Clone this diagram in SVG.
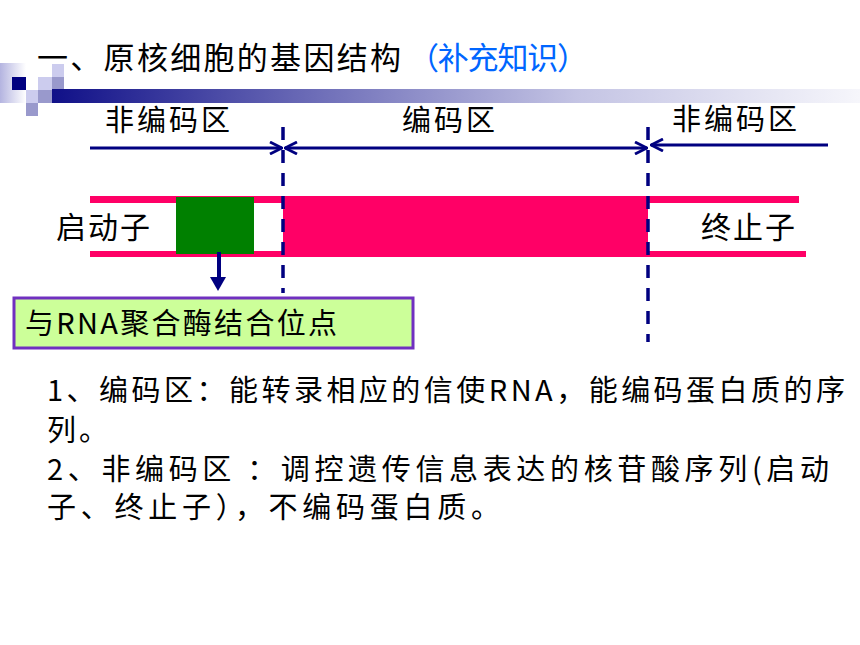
<svg xmlns="http://www.w3.org/2000/svg" width="860" height="645" viewBox="0 0 860 645">
  <style>
    .t { font-family: "Noto Sans CJK SC", "Liberation Sans", sans-serif; fill: #000; }
    .conn { stroke: #000080; stroke-width: 3.2; fill: none; }
    .dash { stroke: #000080; stroke-width: 3.5; stroke-dasharray: 13 10; fill: none; }
    .pink { fill: #FF0066; }
    .lt { fill: #CCCCEE; }
    .md { fill: #9999CC; }
  </style>
  <defs>
    <linearGradient id="barGrad" x1="0" y1="0" x2="1" y2="0">
      <stop offset="0" stop-color="#101088"/>
      <stop offset="0.3" stop-color="#6666b4"/>
      <stop offset="0.65" stop-color="#c4c4e4"/>
      <stop offset="1" stop-color="#f6f6fb"/>
    </linearGradient>
    <linearGradient id="sideGrad" x1="0" y1="0" x2="1" y2="0">
      <stop offset="0" stop-color="#b4b4e0"/>
      <stop offset="1" stop-color="#ffffff"/>
    </linearGradient>
    <marker id="openHead" viewBox="0 0 14 14" refX="13" refY="7" markerWidth="14" markerHeight="14" markerUnits="userSpaceOnUse" orient="auto-start-reverse">
      <path d="M1,1 L13,7 L1,13" fill="none" stroke="#000080" stroke-width="2.8"/>
    </marker>
  </defs>

  <g id="decoration">
    <rect x="0" y="63" width="26" height="40" fill="url(#sideGrad)"/>
    <rect x="52" y="89" width="808" height="14" fill="url(#barGrad)"/>
    <rect x="12" y="77" width="14" height="13" fill="#000080"/>
    <rect class="lt" x="26" y="90" width="12" height="13"/>
    <rect class="md" x="26" y="103" width="12" height="13"/>
    <rect class="lt" x="38" y="77" width="14" height="13"/>
    <rect class="md" x="38" y="90" width="14" height="13"/>
    <rect class="lt" x="52" y="64" width="12" height="13"/>
    <rect class="md" x="52" y="77" width="12" height="12"/>
  </g>

  <g id="title">
    <text class="t" x="37" y="69" font-size="31" textLength="364" lengthAdjust="spacing">一、原核细胞的基因结构</text>
    <text class="t" x="408" y="69" font-size="31" style="fill:#0066FF" textLength="180" lengthAdjust="spacing">（补充知识）</text>
  </g>

  <g id="region-labels">
    <text class="t" x="105" y="131" font-size="29" letter-spacing="3">非编码区</text>
    <text class="t" x="402" y="131" font-size="29" letter-spacing="3">编码区</text>
    <text class="t" x="672" y="130" font-size="29" letter-spacing="3">非编码区</text>
  </g>

  <g id="gene-band">
    <rect class="pink" x="90" y="196" width="193" height="7"/>
    <rect class="pink" x="90" y="251" width="193" height="6"/>
    <rect class="pink" x="283" y="196" width="365" height="61"/>
    <rect class="pink" x="648" y="196" width="151" height="7"/>
    <rect class="pink" x="648" y="251" width="158" height="6"/>
  </g>

  <g id="promoter-site">
    <rect x="176" y="197" width="78" height="57" fill="#008000"/>
  </g>

  <g id="promoter-label">
    <text class="t" x="56" y="238" font-size="30" letter-spacing="2">启动子</text>
  </g>
  <g id="terminator-label">
    <text class="t" x="701" y="238" font-size="30" letter-spacing="2">终止子</text>
  </g>

  <g id="binding-site-box">
    <rect x="14" y="298" width="399" height="50" fill="#CCFF99" stroke="#7030C0" stroke-width="3"/>
    <text class="t" x="25" y="334" font-size="29" textLength="312" lengthAdjust="spacing">与RNA聚合酶结合位点</text>
  </g>

  <g id="connectors">
    <line class="conn" x1="90" y1="148" x2="282" y2="148" marker-end="url(#openHead)"/>
    <line class="conn" x1="285" y1="148" x2="647" y2="148" marker-start="url(#openHead)" marker-end="url(#openHead)"/>
    <line class="conn" x1="828" y1="145" x2="651" y2="145" marker-end="url(#openHead)"/>
    <line class="dash" x1="283" y1="127" x2="283" y2="293"/>
    <line class="dash" x1="648" y1="127" x2="648" y2="342"/>
    <line x1="219" y1="252" x2="219" y2="279" stroke="#000080" stroke-width="4"/>
    <polygon points="210,277 226,277 218,291" fill="#000080"/>
  </g>

  <g id="notes">
    <text class="t" x="47" y="401" font-size="29" textLength="798" lengthAdjust="spacing">1、编码区：能转录相应的信使RNA，能编码蛋白质的序</text>
    <text class="t" x="47" y="441" font-size="29" letter-spacing="3">列。</text>
    <text class="t" x="47" y="480" font-size="29" textLength="782" lengthAdjust="spacing">2、非编码区 ：调控遗传信息表达的核苷酸序列(启动</text>
    <text class="t" x="47" y="518" font-size="29" textLength="453" lengthAdjust="spacing">子、终止子），不编码蛋白质。</text>
  </g>
</svg>
